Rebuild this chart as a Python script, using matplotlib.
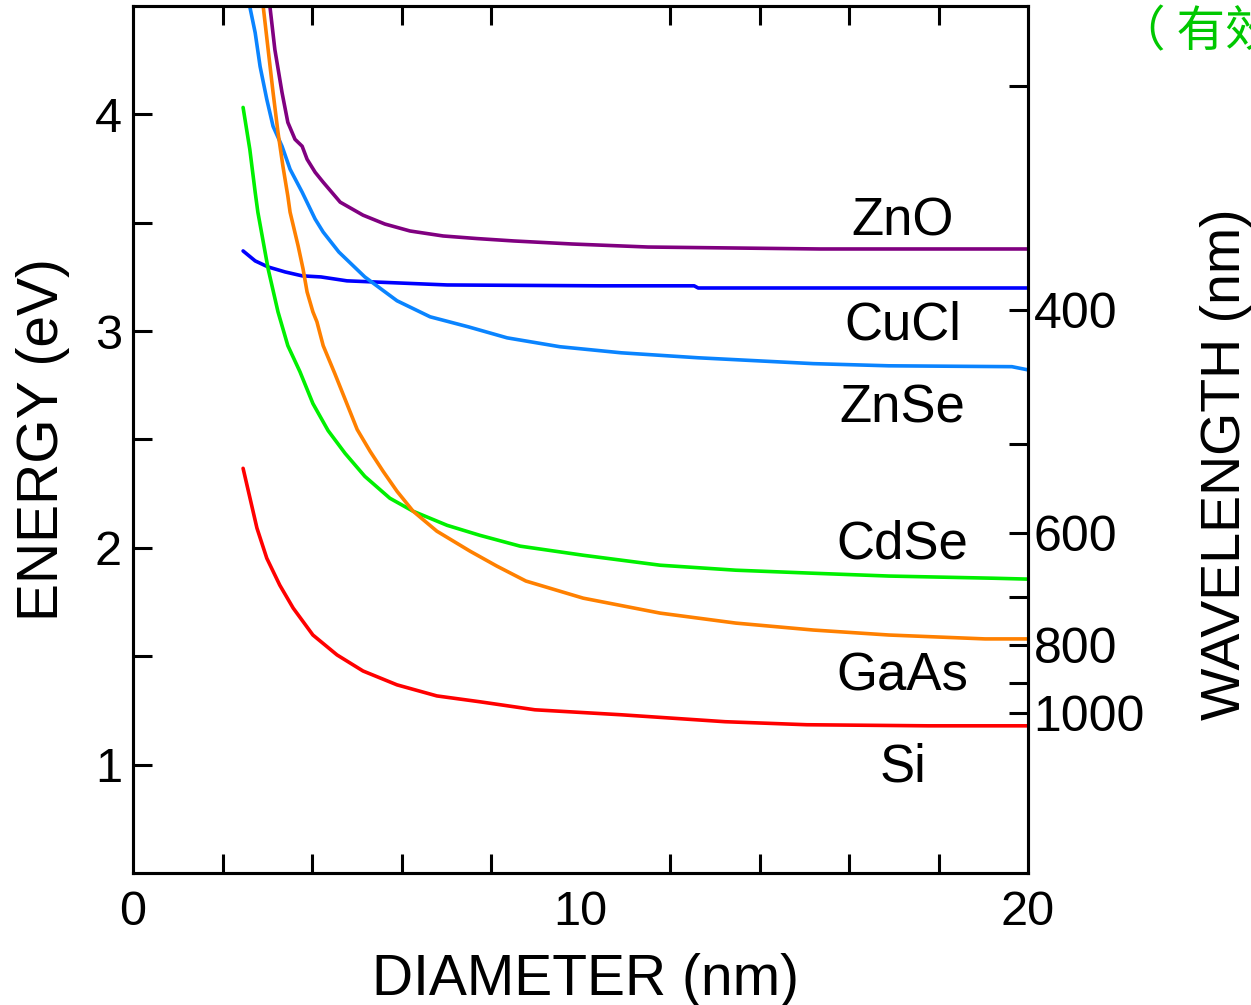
import matplotlib
matplotlib.use("Agg")
import matplotlib.pyplot as plt

plt.rcParams['font.family'] = ['Liberation Sans', 'Noto Sans CJK SC', 'DejaVu Sans']

# diameter (nm) / energy (eV)
zno_d = [3.06, 3.17, 3.33, 3.46, 3.62, 3.78, 3.89, 4.07, 4.25, 4.63, 5.14, 5.63, 6.19, 6.93, 7.69,
         8.51, 9.81, 11.51, 15.35, 19.98]
zno_e = [4.497, 4.299, 4.101, 3.963, 3.885, 3.853, 3.793, 3.733, 3.687, 3.595, 3.535, 3.494, 3.462,
         3.439, 3.427, 3.416, 3.402, 3.388, 3.379, 3.379]

cucl_d = [2.46, 2.73, 3.02, 3.40, 3.78, 4.20, 4.78, 7.02, 10.44, 12.54, 12.63, 19.98]
cucl_e = [3.370, 3.324, 3.296, 3.273, 3.255, 3.250, 3.232, 3.213, 3.209, 3.209, 3.199, 3.199]

znse_d = [2.61, 2.73, 2.84, 2.99, 3.13, 3.33, 3.51, 3.78, 4.07, 4.25, 4.60, 5.18, 5.90, 6.64, 7.49,
          8.36, 9.54, 10.91, 12.63, 15.20, 16.89, 19.64, 19.98]
znse_e = [4.497, 4.377, 4.221, 4.069, 3.945, 3.853, 3.747, 3.641, 3.517, 3.457, 3.365, 3.250, 3.140,
          3.066, 3.020, 2.969, 2.928, 2.900, 2.877, 2.850, 2.840, 2.836, 2.822]

cdse_d = [2.46, 2.61, 2.73, 2.79, 3.02, 3.24, 3.46, 3.73, 4.02, 4.36, 4.74, 5.18, 5.74, 6.26, 7.02,
          7.75, 8.65, 10.06, 11.78, 13.47, 15.20, 16.89, 19.22, 19.98]
cdse_e = [4.032, 3.839, 3.641, 3.549, 3.287, 3.089, 2.933, 2.813, 2.666, 2.541, 2.436, 2.330, 2.229,
          2.169, 2.104, 2.058, 2.008, 1.966, 1.920, 1.897, 1.883, 1.870, 1.860, 1.856]

gaas_d = [2.91, 3.02, 3.13, 3.24, 3.35, 3.46, 3.51, 3.69, 3.80, 3.89, 4.02, 4.11, 4.25, 4.51, 5.01,
          5.30, 5.59, 5.90, 6.26, 6.79, 7.53, 8.13, 8.78, 10.06, 11.78, 13.47, 15.20, 16.89, 19.04,
          19.98]
gaas_e = [4.497, 4.299, 4.101, 3.917, 3.761, 3.623, 3.549, 3.393, 3.287, 3.181, 3.089, 3.043, 2.933,
          2.804, 2.546, 2.445, 2.353, 2.261, 2.169, 2.077, 1.985, 1.916, 1.847, 1.768, 1.699, 1.653,
          1.621, 1.598, 1.580, 1.580]

si_d = [2.46, 2.77, 2.99, 3.28, 3.58, 4.02, 4.56, 5.14, 5.90, 6.79, 7.75, 8.98, 10.91, 13.23, 15.06,
        17.77, 19.98]
si_e = [2.367, 2.091, 1.952, 1.828, 1.722, 1.598, 1.506, 1.432, 1.368, 1.317, 1.290, 1.253, 1.230,
        1.198, 1.184, 1.179, 1.179]

names = ["ZnO", "CuCl", "ZnSe", "CdSe", "GaAs", "Si"]
label_e = [3.505, 3.025, 2.645, 2.015, 1.405, 0.985]

wl_ticks = [300, 400, 500, 600, 700, 800, 900, 1000]
wl_labels = ["", "400", "", "600", "", "800", "", "1000"]

fig = plt.figure(figsize=(12.51, 10.05), dpi=100)
ax = fig.add_axes([133/1251, 1-873/1005, 895/1251, 867/1005])

series = [(zno_d, zno_e, "#800080"), (cucl_d, cucl_e, "#0000ff"), (znse_d, znse_e, "#0a84ff"),
          (cdse_d, cdse_e, "#00f000"), (gaas_d, gaas_e, "#ff8000"), (si_d, si_e, "#ff0000")]
for d, e, c in series:
    ax.plot(d, e, color=c, lw=2.6, solid_joinstyle='round', solid_capstyle='round')

for n, y in zip(names, label_e):
    ax.text(17.2, y, n, fontsize=38, ha='center', va='center')

ax.set_xlim(0, 20)
ax.set_ylim(0.5, 4.5)
ax.set_xticks([0, 10, 20])
ax.set_xticks([2, 4, 6, 8, 12, 14, 16, 18], minor=True)
ax.set_yticks([1, 2, 3, 4])
ax.set_yticks([1.5, 2.5, 3.5], minor=True)
ax.tick_params(which='both', direction='in', length=14, width=2.2, labelsize=35,
               top=True, right=False)
ax.tick_params(axis='x', which='major', length=0, pad=12)
ax.tick_params(axis='x', which='minor', length=14)
ax.tick_params(axis='y', pad=8)
for s in ax.spines.values():
    s.set_linewidth(2.2)

ax.set_xlabel("DIAMETER (nm)", fontsize=41)
ax.set_ylabel("ENERGY (eV)", fontsize=41)
ax.xaxis.set_label_coords(0.506, -0.092)
ax.yaxis.set_label_coords(-0.07, 0.5)

# wavelength scale on the right: E = 1239.84 / lambda
ax2 = ax.twinx()
ax2.set_ylim(ax.get_ylim())
ax2.set_yticks([1239.84 / w for w in wl_ticks])
ax2.set_yticklabels(wl_labels)
ax2.tick_params(direction='in', length=14, width=2.2, labelsize=36, pad=4)
for s in ax2.spines.values():
    s.set_linewidth(2.2)
ax2.set_ylabel("WAVELENGTH (nm)", fontsize=40)
ax2.yaxis.set_label_coords(1.192, 0.472)

fig.text(1117/1251, 1-33/1005, "（ 有效质量近似）", color="#00c800", fontsize=35,
         ha='left', va='center', family=['Noto Sans CJK SC', 'DejaVu Sans'])

fig.savefig("out.png", dpi=100)
